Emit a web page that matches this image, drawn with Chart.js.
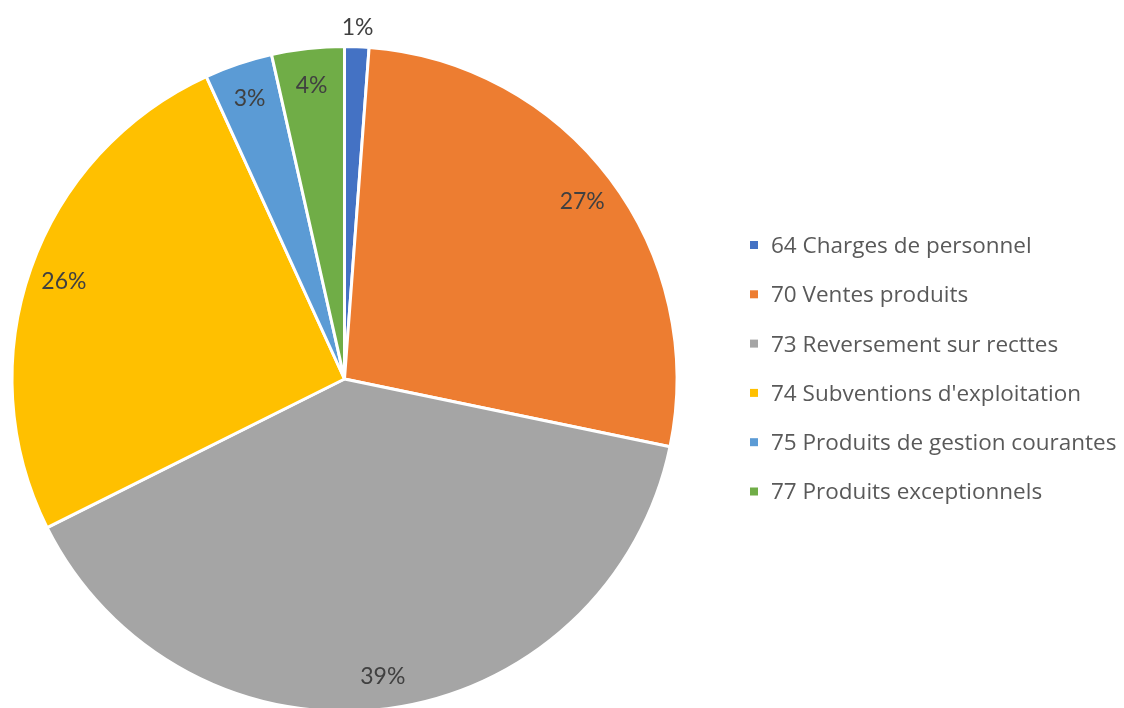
<!DOCTYPE html>
<html>
<head>
<meta charset="utf-8">
<script src="https://cdn.jsdelivr.net/npm/chart.js@4/dist/chart.umd.min.js"></script>
<style>
  html, body { margin: 0; padding: 0; background: #ffffff; overflow: hidden; }
  #wrap { width: 1124px; height: 708px; position: relative; overflow: hidden; }
</style>
</head>
<body>
<div id="wrap"><canvas id="c" width="1124" height="720"></canvas></div>
<script>
// ---- Data ----
const categories = [
  "64 Charges de personnel",
  "70 Ventes produits",
  "73 Reversement sur recttes",
  "74 Subventions d'exploitation",
  "75 Produits de gestion courantes",
  "77 Produits exceptionnels"
];
const values = [1.18, 27.09, 39.35, 25.56, 3.30, 3.52];
const sliceColors = ["#4472C4", "#ED7D31", "#A5A5A5", "#FFC000", "#5B9BD5", "#70AD47"];

const LABEL_FONT = "Lato, 'Open Sans', sans-serif";
const LEGEND_FONT = "'Open Sans', Lato, sans-serif";

const dataLabelPlugin = {
  id: 'pctLabels',
  afterDatasetsDraw(chart) {
    const ctx = chart.ctx;
    const meta = chart.getDatasetMeta(0);
    const data = chart.data.datasets[0].data;
    const total = data.reduce((a, b) => a + b, 0);
    ctx.save();
    ctx.font = "23px " + LABEL_FONT;
    ctx.fillStyle = "#404040";
    ctx.textAlign = "center";
    ctx.textBaseline = "middle";
    meta.data.forEach((arc, i) => {
      const p = arc.getProps(['x', 'y', 'startAngle', 'endAngle', 'outerRadius'], true);
      const share = data[i] / total * 100;
      const mid = (p.startAngle + p.endAngle) / 2;
      const r = share < 2 ? p.outerRadius * 1.065 : p.outerRadius * 0.895;
      const x = p.x + Math.cos(mid) * r;
      const y = p.y + Math.sin(mid) * r + 2;
      ctx.fillText(Math.round(share) + "%", x, y);
    });
    ctx.restore();
  }
};

const legendPlugin = {
  id: 'sideLegend',
  afterDraw(chart) {
    const ctx = chart.ctx;
    const labels = chart.data.labels;
    const cols = chart.data.datasets[0].backgroundColor;
    ctx.save();
    ctx.font = "22.5px " + LEGEND_FONT;
    ctx.textAlign = "left";
    ctx.textBaseline = "middle";
    labels.forEach((lab, i) => {
      const y = 245 + i * 49.3;
      ctx.fillStyle = cols[i];
      ctx.fillRect(750, y - 4, 8, 8);
      ctx.fillStyle = "#595959";
      ctx.fillText(lab, 771, y + 1.5);
    });
    ctx.restore();
  }
};

new Chart(document.getElementById('c'), {
  type: 'pie',
  data: {
    labels: categories,
    datasets: [{
      data: values,
      backgroundColor: sliceColors,
      borderColor: "#ffffff",
      borderWidth: 3
    }]
  },
  options: {
    responsive: false,
    animation: false,
    devicePixelRatio: 1,
    layout: { padding: { top: 45, bottom: 7, left: 0, right: 435 } },
    plugins: {
      legend: { display: false },
      tooltip: { enabled: false }
    }
  },
  plugins: [dataLabelPlugin, legendPlugin]
});
</script>
</body>
</html>
